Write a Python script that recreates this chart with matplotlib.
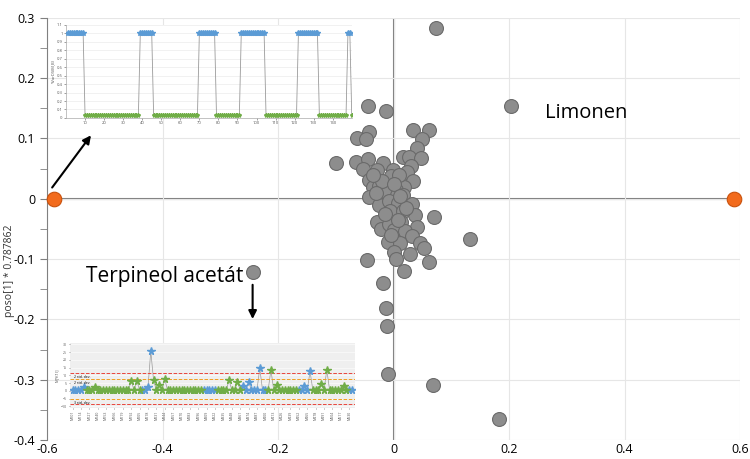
import numpy as np
import matplotlib.pyplot as plt

plt.rcParams['font.family'] = ['Open Sans', 'DejaVu Sans']

# hlavni scatter (skore)
gx = [-0.044, -0.013, -0.042, -0.064, -0.048, 0.033, 0.061, 0.049, 0.040, -0.100,
      -0.065, -0.044, 0.016, 0.026, 0.047, -0.019, 0.030, 0.024, -0.052, -0.028,
      -0.001, -0.005, -0.042, 0.033, -0.035, -0.025, 0.019, 0.004, -0.013, -0.042,
      0.016, 0.006, -0.026, -0.007, 0.007, 0.032, 0.070, 0.037, -0.006, 0.017,
      -0.029, -0.022, -0.007, 0.013, 0.040, 0.000, 0.020, 0.032, 0.133, -0.009,
      0.012, 0.046, 0.053, 0.001, 0.029, 0.005, -0.046, 0.061, 0.019, -0.018,
      -0.013, -0.012, -0.010, 0.068, 0.073, 0.204, 0.183, -0.243,
      -0.020, 0.010, -0.030, 0.000, 0.022, -0.015, 0.008, -0.036, 0.012, -0.004]
gy = [0.154, 0.145, 0.110, 0.100, 0.099, 0.114, 0.114, 0.099, 0.085, 0.059,
      0.061, 0.066, 0.070, 0.070, 0.067, 0.059, 0.054, 0.045, 0.050, 0.047,
      0.048, 0.037, 0.032, 0.029, 0.019, 0.022, 0.020, 0.015, 0.012, 0.003,
      0.007, 0.007, -0.010, -0.004, -0.007, -0.008, -0.031, -0.027, -0.021, -0.021,
      -0.038, -0.050, -0.041, -0.038, -0.046, -0.051, -0.054, -0.062, -0.067, -0.071,
      -0.073, -0.073, -0.081, -0.089, -0.091, -0.100, -0.102, -0.104, -0.119, -0.139,
      -0.181, -0.211, -0.291, -0.309, 0.284, 0.154, -0.366, -0.121,
      0.030, 0.040, 0.010, 0.025, -0.015, -0.025, -0.035, 0.040, 0.005, -0.060]
ox = [-0.588, 0.59]
oy = [0.0, 0.0]

# inset 1: tridni promenna
n1 = 150
blue_ranges = [(1, 9), (39, 45), (70, 78), (92, 104), (122, 132), (148, 149)]
low_val = 0.03

# inset 2: koeficienty
n2 = 101
blue_ranges2 = [(0, 4), (25, 27), (47, 51), (61, 69), (81, 84), (99, 100)]
base_val = 0.6
spike_idx = [4, 8, 21, 23, 27, 28, 29, 31, 33, 56, 59, 61, 63, 67, 71, 73, 83, 85, 89, 91, 97]
spike_val = [2.7, 2.7, 6.5, 6.5, 2.3, 25.8, 6.8, 3.7, 7.5, 6.9, 5.8, 3.3, 6.0, 14.6, 13.6, 3.7, 3.3, 12.6, 4.3, 13.6, 3.3]

fig = plt.figure(figsize=(7.5, 4.59), dpi=100)
ax = fig.add_axes([0.0627, 0.0414, 0.924, 0.9196])
ax.set_xlim(-0.6, 0.6)
ax.set_ylim(-0.4, 0.3)
ax.set_xticks([-0.6, -0.4, -0.2, 0, 0.2, 0.4, 0.6])
ax.set_xticklabels(['-0.6', '-0.4', '-0.2', '0', '0.2', '0.4', '0.6'])
ax.set_yticks([-0.4, -0.3, -0.2, -0.1, 0, 0.1, 0.2, 0.3])
ax.set_yticklabels(['-0.4', '-0.3', '-0.2', '-0.1', '0', '0.1', '0.2', '0.3'])
ax.set_yticks(np.arange(-0.35, 0.3, 0.1), minor=True)
ax.tick_params(axis='y', which='both', direction='out', labelsize=9, color='#808080', length=5)
ax.tick_params(axis='x', length=0, labelsize=9, pad=2)
ax.grid(True, color='#e6e6e6', lw=0.8)
for s in ['top', 'right', 'bottom']:
    ax.spines[s].set_visible(False)
ax.spines['left'].set_color('#808080')
ax.axhline(0, color='#7f7f7f', lw=1.5, zorder=1)
ax.axvline(0, color='#7f7f7f', lw=1.5, zorder=1)

ax.scatter(gx, gy, s=100, c='#8d8d8d', edgecolors='#6a6a6a', linewidths=0.8, zorder=3)
ax.scatter(ox, oy, s=110, c='#f26b1d', edgecolors='#c9510c', linewidths=0.8, zorder=4, clip_on=False)

ax.set_ylabel('poso[1] * 0.787862', fontsize=7.5, color='#333333')
ax.yaxis.set_label_coords(-0.046, 0.4)

ax.text(0.263, 0.143, 'Limonen', fontsize=14.5, va='center')
ax.text(-0.533, -0.129, 'Terpineol acetát', fontsize=15, va='center')

ax.annotate('', xy=(-0.521, 0.109), xytext=(-0.594, 0.015),
            arrowprops=dict(arrowstyle='-|>', color='black', lw=1.5, mutation_scale=12), zorder=6)
ax.annotate('', xy=(-0.244, -0.204), xytext=(-0.244, -0.138),
            arrowprops=dict(arrowstyle='-|>', color='black', lw=1.5, mutation_scale=12), zorder=6)

# inset 1
x1 = np.arange(1, n1 + 1)
y1 = np.full(n1, low_val)
for a, b in blue_ranges:
    y1[(x1 >= a) & (x1 <= b)] = 1.0
isb = y1 > 0.5
a1 = fig.add_axes([0.088, 0.743, 0.381, 0.203])
a1.plot(x1, y1, color='#9a9a9a', lw=0.6, zorder=2)
a1.plot(x1[isb], y1[isb], '*', color='#5b9bd5', ms=4, zorder=3)
a1.plot(x1[~isb], y1[~isb], '*', color='#70ad47', ms=3, zorder=3)
a1.set_xlim(0, 150)
a1.set_ylim(0, 1.1)
a1.set_xticks(np.arange(10, 150, 10))
a1.set_yticks(np.arange(0, 1.11, 0.1))
a1.set_yticklabels(['0', '0.1', '0.2', '0.3', '0.4', '0.5', '0.6', '0.7', '0.8', '0.9', '1', '1.1'])
a1.tick_params(labelsize=3, length=1.5, width=0.4, colors='#555555', pad=1)
a1.set_ylabel('YVarDS(M,B)', fontsize=3, labelpad=1, color='#555555')
a1.grid(axis='y', color='#e6e6e6', lw=0.4)
for s in ['top', 'right']:
    a1.spines[s].set_visible(False)
for s in ['left', 'bottom']:
    a1.spines[s].set_color('#aaaaaa')
    a1.spines[s].set_linewidth(0.5)

# inset 2
x2 = np.arange(n2)
y2 = np.full(n2, base_val)
for i, v in zip(spike_idx, spike_val):
    y2[i] = v
isb2 = np.zeros(n2, dtype=bool)
for a, b in blue_ranges2:
    isb2[(x2 >= a) & (x2 <= b)] = True
isb2[[4, 27, 28, 63, 67, 83, 85]] = True
a2 = fig.add_axes([0.093, 0.111, 0.38, 0.142])
a2.set_facecolor('#efefef')
a2.plot(x2, y2, color='#9a9a9a', lw=0.5, zorder=2)
a2.plot(x2[isb2], y2[isb2], '*', color='#5b9bd5', ms=5.5, zorder=3)
a2.plot(x2[~isb2], y2[~isb2], '*', color='#70ad47', ms=5.5, zorder=3)
a2.axhline(11.7, color='#e8453c', ls='--', lw=0.7)
a2.axhline(-8.7, color='#e8453c', ls='--', lw=0.7)
a2.axhline(7.9, color='#f0a020', ls='--', lw=0.7)
a2.axhline(-5.4, color='#f0a020', ls='--', lw=0.7)
a2.text(0.5, 8.6, '2 std. dev.', fontsize=2.5)
a2.text(0.5, 4.2, '2 std. dev.', fontsize=2.5)
a2.text(0.5, -8.2, '3 std. dev.', fontsize=2.5)
a2.set_xlim(-1, 101)
a2.set_ylim(-11, 31)
a2.set_yticks(np.arange(-10, 31, 5))
a2.set_xticks(np.arange(0, 101, 3))
a2.set_xticklabels(['M%d' % (i * 13 + 101) for i in range(34)], rotation=90)
a2.tick_params(labelsize=2.5, length=1, width=0.4, colors='#555555', pad=1)
a2.set_ylabel('M[Y(1)]', fontsize=3, labelpad=1, color='#555555')
a2.grid(axis='y', color='#ffffff', lw=0.4)
for s in a2.spines.values():
    s.set_visible(False)

fig.savefig('out.png', dpi=100)
